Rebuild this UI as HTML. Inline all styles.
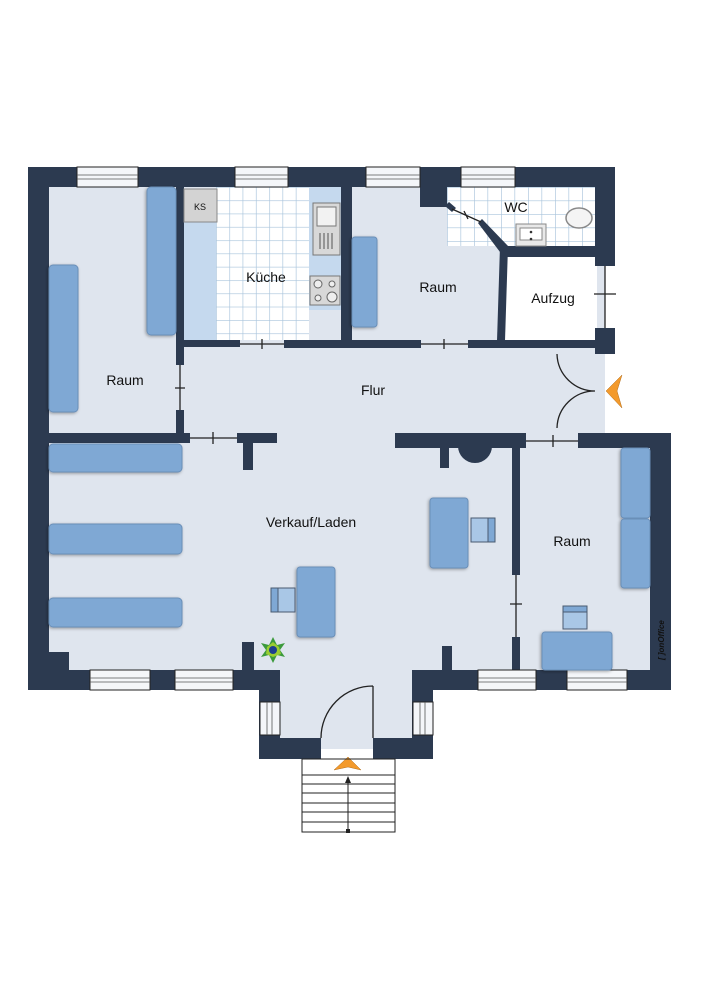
<!DOCTYPE html>
<html><head><meta charset="utf-8"><style>
html,body{margin:0;padding:0;background:#fff;}
svg{display:block}
text{font-family:"Liberation Sans",sans-serif;fill:#111;}
</style></head><body>
<svg width="706" height="1000" viewBox="0 0 706 1000" xmlns="http://www.w3.org/2000/svg">
<defs>
<pattern id="tile" x="216" y="187" width="13.3" height="13.3" patternUnits="userSpaceOnUse">
<rect width="13.3" height="13.3" fill="#fff"/><path d="M0 0H13.3M0 0V13.3" stroke="#a9c4dc" stroke-width="1.3"/>
</pattern>
<pattern id="tile2" x="447" y="187" width="13.5" height="13.5" patternUnits="userSpaceOnUse">
<rect width="13.5" height="13.5" fill="#fff"/><path d="M0 0H13.5M0 0V13.5" stroke="#a9c4dc" stroke-width="1.3"/>
</pattern>
<filter id="sh" x="-20%" y="-20%" width="140%" height="140%"><feDropShadow dx="-1" dy="1" stdDeviation="1.5" flood-color="#000" flood-opacity="0.35"/></filter>
</defs>
<!-- floors -->
<g fill="#dfe5ee">
<rect x="28" y="167" width="577" height="270"/>
<rect x="28" y="433" width="643" height="257"/>
<rect x="280" y="690" width="132" height="59"/>
</g>
<rect x="216" y="187" width="93" height="153" fill="url(#tile)"/>
<rect x="447" y="187" width="150" height="59" fill="url(#tile2)"/>
<rect x="505" y="257" width="92" height="84" fill="#fff"/>
<!-- walls -->
<g fill="#2c3a50">
<rect x="28" y="167" width="587" height="20"/>
<rect x="28" y="167" width="21" height="523"/>
<rect x="595" y="167" width="20" height="99"/>
<rect x="595" y="328" width="20" height="26"/>
<rect x="28" y="670" width="252" height="20"/>
<rect x="28" y="652" width="41" height="38"/>
<rect x="259" y="670" width="21" height="89"/>
<rect x="259" y="738" width="62" height="21"/>
<rect x="373" y="738" width="60" height="21"/>
<rect x="412" y="670" width="21" height="89"/>
<rect x="412" y="670" width="259" height="20"/>
<rect x="650" y="433" width="21" height="257"/>
<rect x="578" y="433" width="93" height="15"/>
<rect x="395" y="433" width="131" height="15"/>
<rect x="440" y="446" width="9" height="22"/>
<path d="M458 446 A17 17 0 0 0 492 446 Z"/>
<rect x="512" y="446" width="8" height="129"/>
<rect x="512" y="637" width="8" height="33"/>
<rect x="242" y="642" width="12" height="30"/>
<rect x="442" y="646" width="10" height="26"/>
<rect x="49" y="433" width="141" height="10"/>
<rect x="237" y="433" width="40" height="10"/>
<rect x="243" y="441" width="10" height="29"/>
<rect x="176" y="187" width="8" height="178"/>
<rect x="176" y="410" width="8" height="30"/>
<rect x="176" y="340" width="64" height="7"/>
<rect x="284" y="340" width="137" height="8"/>
<rect x="468" y="340" width="130" height="8"/>
<rect x="341" y="187" width="11" height="155"/>
<rect x="420" y="187" width="27" height="20"/>
<rect x="503" y="246" width="112" height="11"/>
<polygon points="500,246 508,246 505,341 497,341"/>
<polygon points="445,206 449,202 456,208 452,212"/>
<polygon points="478,223 482,219 508,246 500,252"/>
</g>
<!-- door lines -->
<g stroke="#222" stroke-width="1.3" fill="none">
<path d="M180 365V410M175 388H185"/>
<path d="M190 438H237M213 432V444"/>
<path d="M240 344H284M262 339V349"/>
<path d="M421 344H468M444 339V349"/>
<path d="M452 209L481 222M464 211L468 219"/>
<path d="M605 266V328M594 294H616"/>
<path d="M526 441H578M553 435V447"/>
<path d="M516 575V637M510 604H522"/>
<path d="M557 354A38 38 0 0 0 595 391A38 38 0 0 0 557 428"/>
<path d="M373 686V738M373 686A52 52 0 0 0 321 738"/>
</g>
<!-- windows -->
<g fill="#f4f6f9" stroke="#222" stroke-width="1">
<rect x="77" y="167" width="61" height="20"/><rect x="235" y="167" width="53" height="20"/>
<rect x="366" y="167" width="54" height="20"/><rect x="461" y="167" width="54" height="20"/>
<rect x="90" y="670" width="60" height="20"/><rect x="175" y="670" width="58" height="20"/>
<rect x="478" y="670" width="58" height="20"/><rect x="567" y="670" width="60" height="20"/>
<rect x="260" y="702" width="20" height="33"/><rect x="413" y="702" width="20" height="33"/>
</g>
<g stroke="#555" stroke-width="0.8">
<path d="M77 175H138M77 179H138M235 175H288M235 179H288M366 175H420M366 179H420M461 175H515M461 179H515"/>
<path d="M90 678H150M90 682H150M175 678H233M175 682H233M478 678H536M478 682H536M567 678H627M567 682H627"/>
<path d="M267 702V735M272 702V735M420 702V735M425 702V735"/>
</g>
<!-- kitchen -->
<rect x="184" y="222" width="32" height="118" fill="#c5d9ee"/>
<rect x="309" y="187" width="32" height="123" fill="#c5d9ee"/>
<rect x="184" y="189" width="33" height="33" fill="#d3d3d3" stroke="#888"/>
<text x="200" y="210" font-size="9" text-anchor="middle">KS</text>
<rect x="313" y="203" width="27" height="52" fill="#d8d8d8" stroke="#777"/>
<rect x="317" y="207" width="19" height="19" fill="#f2f2f2" stroke="#777"/>
<path d="M320 233V249M324 233V249M328 233V249M332 233V249" stroke="#555"/>
<rect x="310" y="276" width="30" height="29" fill="#d8d8d8" stroke="#777"/>
<g fill="#eee" stroke="#666"><circle cx="318" cy="284" r="4"/><circle cx="332" cy="284" r="3"/><circle cx="318" cy="298" r="3"/><circle cx="332" cy="297" r="5"/></g>
<!-- WC -->
<ellipse cx="579" cy="218" rx="13" ry="10" fill="#f4f4f4" stroke="#888" stroke-width="1.5"/>
<rect x="516" y="224" width="30" height="22" fill="#e8e8e8" stroke="#888"/>
<rect x="520" y="228" width="22" height="12" fill="#fff" stroke="#888"/>
<circle cx="531" cy="232" r="1.3" fill="#333"/><circle cx="531" cy="239" r="1.3" fill="#333"/>
<!-- furniture -->
<g fill="#7fa8d4" stroke="#6b8fb8" filter="url(#sh)">
<rect x="147" y="187" width="29" height="148" rx="4"/>
<rect x="49" y="265" width="29" height="147" rx="4"/>
<rect x="352" y="237" width="25" height="90" rx="3"/>
<rect x="49" y="444" width="133" height="28" rx="4"/>
<rect x="49" y="524" width="133" height="30" rx="4"/>
<rect x="49" y="598" width="133" height="29" rx="4"/>
<rect x="297" y="567" width="38" height="70" rx="3"/>
<rect x="430" y="498" width="38" height="70" rx="3"/>
<rect x="621" y="448" width="29" height="70" rx="3"/>
<rect x="621" y="519" width="29" height="69" rx="3"/>
<rect x="542" y="632" width="70" height="38" rx="3"/>
</g>
<g fill="#a9c7e6" stroke="#4a5a70">
<rect x="271" y="588" width="24" height="24"/><rect x="271" y="588" width="7" height="24" fill="#7fa8d4"/>
<rect x="471" y="518" width="24" height="24"/><rect x="488" y="518" width="7" height="24" fill="#7fa8d4"/>
<rect x="563" y="606" width="24" height="23"/><rect x="563" y="606" width="24" height="6" fill="#7fa8d4"/>
</g>
<!-- plant -->
<g transform="translate(273,650)">
<polygon points="0,-13 4,-5 12,-7 7,0 12,7 4,5 0,13 -4,5 -12,7 -7,0 -12,-7 -4,-5" fill="#3c9a3c"/>
<polygon points="0,-8 6,-3 8,4 0,7 -7,4 -6,-3" fill="#9acd32"/>
<circle r="4" fill="#1d3f8f"/>
</g>
<!-- arrows -->
<polygon points="622,375 606,391 622,408 617,391" fill="#f39a2c" stroke="#b36d1a" stroke-width="0.5"/>
<polygon points="348,757 334,770 348,767 361,770" fill="#f39a2c" stroke="#b36d1a" stroke-width="0.5"/>
<!-- stairs -->
<g stroke="#222" stroke-width="1" fill="none">
<rect x="302" y="759" width="93" height="73"/>
<path d="M302 775H395M302 784H395M302 793H395M302 803H395M302 812H395M302 822H395"/>
<path d="M348 831V779"/>
</g>
<polygon points="348,776 345,783 351,783" fill="#222"/>
<rect x="346" y="829" width="4" height="4" fill="#222"/>
<!-- watermark -->
<text x="0" y="0" font-size="8" font-style="italic" font-weight="bold" fill="#c9d3e2" transform="translate(664,660) rotate(-90)">[ ]onOffice</text>
<!-- labels -->
<g font-size="14">
<text x="125" y="385" text-anchor="middle">Raum</text>
<text x="266" y="282" text-anchor="middle">Küche</text>
<text x="438" y="292" text-anchor="middle">Raum</text>
<text x="516" y="212" text-anchor="middle">WC</text>
<text x="553" y="303" text-anchor="middle">Aufzug</text>
<text x="373" y="395" text-anchor="middle">Flur</text>
<text x="311" y="527" text-anchor="middle">Verkauf/Laden</text>
<text x="572" y="546" text-anchor="middle">Raum</text>
</g>
</svg>
</body></html>
